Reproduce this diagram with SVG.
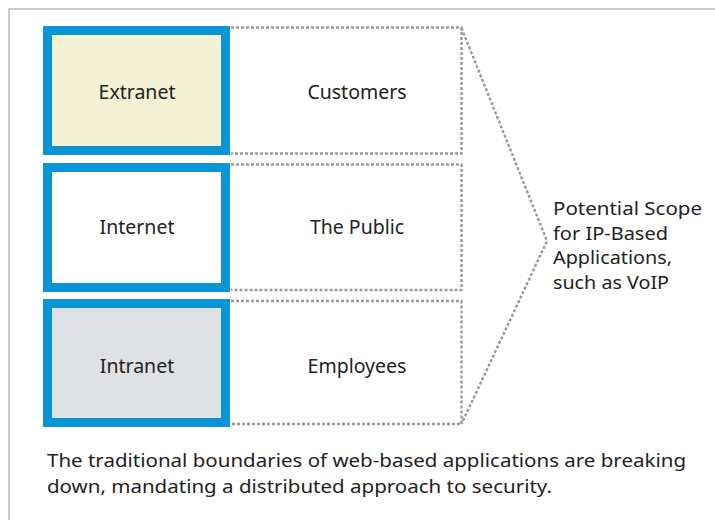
<svg xmlns="http://www.w3.org/2000/svg" width="715" height="520" viewBox="0 0 715 520">
<style>
.frame{fill:#ffffff;stroke:#c9cacc;stroke-width:2}
.zone{stroke:#0896d6;stroke-width:9}
.dot{fill:none;stroke:#999999;stroke-width:2.4;stroke-dasharray:3 2}
text{font-family:"Noto Sans","Open Sans","DejaVu Sans",sans-serif;font-size:19.5px;fill:#222222}
.c{text-anchor:middle}
.s{font-size:18px}
.cap{font-size:18px}
</style>
<rect class="frame" x="9" y="9" width="720" height="530"/>
<g id="extranet">
<rect class="zone" x="47.5" y="30.5" width="178" height="120" fill="#f3f2d5"/>
<text class="c" x="137" y="99">Extranet</text>
</g>
<g id="internet">
<rect class="zone" x="47.5" y="167.5" width="178" height="120" fill="#ffffff"/>
<text class="c" x="137" y="234">Internet</text>
</g>
<g id="intranet">
<rect class="zone" x="47.5" y="303.5" width="178" height="119" fill="#dfe1e4"/>
<text class="c" x="137" y="373">Intranet</text>
</g>
<g id="customers">
<path class="dot" d="M231 27.5 H461.5 V153.5 H231"/>
<text class="c" x="357" y="99">Customers</text>
</g>
<g id="public">
<path class="dot" d="M231 164.5 H461.5 V290 H231"/>
<text class="c" x="357" y="234">The Public</text>
</g>
<g id="employees">
<path class="dot" d="M231 301 H461.5 V424 H231"/>
<text class="c" x="357" y="373">Employees</text>
</g>
<g id="connectors">
<path class="dot" d="M461.5 28 L547 241 L461.5 424"/>
</g>
<g id="scope">
<text class="s" x="553" y="215" textLength="149" lengthAdjust="spacingAndGlyphs">Potential Scope</text>
<text class="s" x="553" y="240" textLength="115" lengthAdjust="spacingAndGlyphs">for IP-Based</text>
<text class="s" x="553" y="264" textLength="119" lengthAdjust="spacingAndGlyphs">Applications,</text>
<text class="s" x="553" y="289" textLength="116" lengthAdjust="spacingAndGlyphs">such as VoIP</text>
</g>
<g id="caption">
<text class="cap" x="47" y="467" textLength="639" lengthAdjust="spacingAndGlyphs">The traditional boundaries of web-based applications are breaking</text>
<text class="cap" x="47" y="493" textLength="505" lengthAdjust="spacingAndGlyphs">down, mandating a distributed approach to security.</text>
</g>
</svg>
